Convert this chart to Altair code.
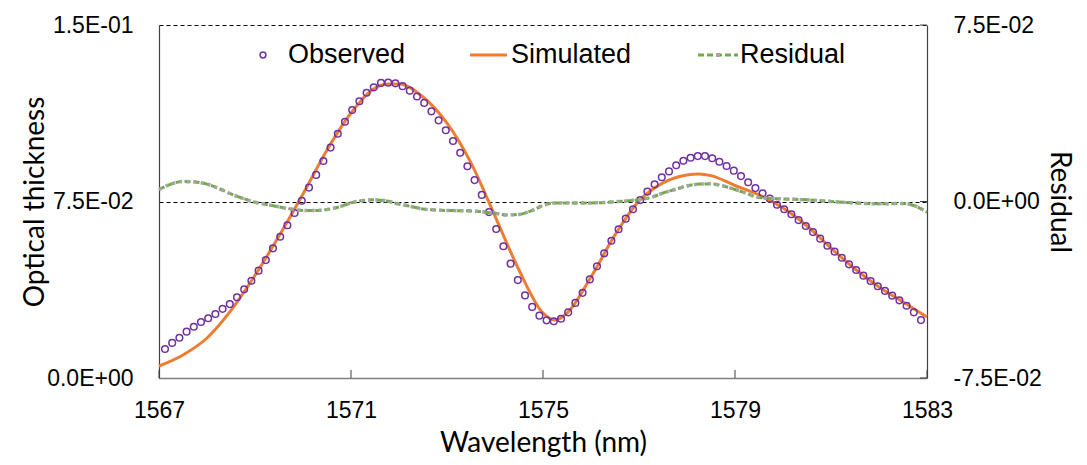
import altair as alt
import pandas as pd

# ---------------- data ----------------
obs_start = 1567.125
obs_step = 0.15
observed = [
    0.0123, 0.0149, 0.0171, 0.0197, 0.0218, 0.0238, 0.0254, 0.0272, 0.0294, 0.0314,
    0.0343, 0.0377, 0.0413, 0.0456, 0.0501, 0.0551, 0.0600, 0.0649, 0.0701, 0.0753,
    0.0809, 0.0863, 0.0922, 0.0979, 0.1038, 0.1089, 0.1139, 0.1176, 0.1212, 0.1235,
    0.1254, 0.1255, 0.1252, 0.1240, 0.1221, 0.1196, 0.1169, 0.1133, 0.1095, 0.1053,
    0.1007, 0.0957, 0.0900, 0.0841, 0.0778, 0.0705, 0.0633, 0.0560, 0.0486, 0.0416,
    0.0351, 0.0302, 0.0265, 0.0245, 0.0241, 0.0252, 0.0279, 0.0319, 0.0362, 0.0419,
    0.0475, 0.0530, 0.0583, 0.0632, 0.0677, 0.0717, 0.0756, 0.0792, 0.0823, 0.0853,
    0.0878, 0.0904, 0.0923, 0.0936, 0.0943, 0.0943, 0.0934, 0.0919, 0.0901, 0.0881,
    0.0858, 0.0832, 0.0807, 0.0785, 0.0762, 0.0736, 0.0717, 0.0696, 0.0671, 0.0646,
    0.0620, 0.0592, 0.0562, 0.0537, 0.0511, 0.0483, 0.0459, 0.0435, 0.0412, 0.0390,
    0.0370, 0.0350, 0.0330, 0.0307, 0.0279, 0.0246,
]
obs_wl = [round(obs_start + obs_step * i, 3) for i in range(len(observed))]

sim_wl = [1567.0, 1567.5, 1568.0, 1568.5, 1569.0, 1569.5, 1570.0, 1570.5, 1571.0,
          1571.5, 1571.75, 1572.0, 1572.5, 1573.0, 1573.5, 1574.0, 1574.5, 1575.0,
          1575.25, 1575.5, 1576.0, 1576.5, 1577.0, 1577.5, 1578.0, 1578.25, 1578.5,
          1579.0, 1579.5, 1580.0, 1580.5, 1581.0, 1581.5, 1582.0, 1582.5, 1583.0]
simulated = [0.0051, 0.0098, 0.0170, 0.0287, 0.0436, 0.0603, 0.0782, 0.0969, 0.1126,
             0.1232, 0.1249, 0.1249, 0.1194, 0.1083, 0.0914, 0.0688, 0.0459, 0.0276,
             0.0246, 0.0276, 0.0429, 0.0608, 0.0752, 0.0829, 0.0863, 0.0867, 0.0860,
             0.0818, 0.0778, 0.0722, 0.0646, 0.0552, 0.0463, 0.0387, 0.0323, 0.0259]

res_wl = [1567.0, 1567.25, 1567.5, 1567.75, 1568.0, 1568.25, 1568.5, 1568.75, 1569.0,
          1569.25, 1569.5, 1569.75, 1570.0, 1570.25, 1570.5, 1570.75, 1571.0, 1571.25,
          1571.5, 1571.75, 1572.0, 1572.25, 1572.5, 1572.75, 1573.0, 1573.5, 1574.0,
          1574.25, 1574.5, 1574.75, 1575.0, 1575.25, 1575.5, 1576.0, 1576.5, 1577.0,
          1577.25, 1577.5, 1577.75, 1578.0, 1578.25, 1578.5, 1578.75, 1579.0, 1579.25,
          1579.5, 1580.0, 1580.5, 1581.0, 1581.5, 1582.0, 1582.5, 1582.75, 1583.0]
residual = [0.0051, 0.0074, 0.0085, 0.0083, 0.0074, 0.0055, 0.0032, 0.0013, -0.0003,
            -0.0013, -0.0023, -0.0032, -0.0038, -0.0038, -0.0034, -0.0023, -0.0006, 0.0004,
            0.0007, 0.0002, -0.0011, -0.0021, -0.0032, -0.0036, -0.0038, -0.0040, -0.0050,
            -0.0057, -0.0055, -0.0040, -0.0017, -0.0006, -0.0006, -0.0006, -0.0001, 0.0008,
            0.0017, 0.0036, 0.0051, 0.0066, 0.0074, 0.0075, 0.0066, 0.0051, 0.0034,
            0.0017, 0.0011, 0.0007, 0.0000, -0.0006, -0.0010, -0.0008, -0.0019, -0.0045]

x_ticks = [1567, 1571, 1575, 1579, 1583]
left_ticks = [0, 0.075, 0.15]
left_labels = ["0.0E+00", "7.5E-02", "1.5E-01"]
right_ticks = [-0.075, 0, 0.075]
right_labels = ["-7.5E-02", "0.0E+00", "7.5E-02"]
legend_labels = ["Observed", "Simulated", "Residual"]

# ---------------- styling ----------------
PURPLE = "#7030A0"
ORANGE = "#ED7D31"
GREEN = "#70AD47"
GREY = "#A5A5A5"
TICK_FONT = "Liberation Sans"
TITLE_FONT = "Lato"
W, H = 768, 353


def label_expr(vals, labels):
    expr = "''"
    for v, l in zip(reversed(vals), reversed(labels)):
        expr = f"abs(datum.value - ({v})) < 1e-9 ? '{l}' : " + expr
    return expr


obs_df = pd.DataFrame({"wl": obs_wl, "val": observed})
sim_df = pd.DataFrame({"wl": sim_wl, "val": simulated})
res_df = pd.DataFrame({"wl": res_wl, "val": residual})
xt_df = pd.DataFrame({"wl": x_ticks})
rt_df = pd.DataFrame({"val": right_ticks})

x_scale = alt.Scale(domain=[1567, 1583], nice=False, zero=False)
x_axis = alt.Axis(values=x_ticks, format="d", title="Wavelength (nm)", grid=False,
                  ticks=False, tickSize=0, labelFontSize=23, labelFont=TICK_FONT,
                  labelColor="black", labelPadding=21, labelFlush=False,
                  domainColor="#7f7f7f", domainWidth=1.5, titleFont=TITLE_FONT,
                  titleFontSize=28, titleFontWeight="normal", titleColor="black",
                  titleX=W / 2, titleY=73, titleBaseline="alphabetic",
                  titleAlign="center")

yl_scale = alt.Scale(domain=[0, 0.15], nice=False)
yl_axis = alt.Axis(values=left_ticks, labelExpr=label_expr(left_ticks, left_labels),
                   title="Optical thickness", grid=True, gridDash=[4, 3],
                   gridColor="black", gridWidth=1, ticks=False, tickSize=0,
                   labelFontSize=23, labelFont=TICK_FONT, labelColor="black",
                   labelPadding=26, labelFlush=False, domainColor="#404040",
                   domainWidth=1.2, titleFont=TITLE_FONT, titleFontSize=28,
                   titleFontWeight="normal", titleColor="black", titleX=-124,
                   titleY=H / 2, titleAngle=-90, titleBaseline="middle",
                   titleAlign="center")

yr_scale = alt.Scale(domain=[-0.075, 0.075], nice=False, zero=False)
yr_axis = alt.Axis(values=right_ticks, labelExpr=label_expr(right_ticks, right_labels),
                   title="Residual", orient="right", grid=False, ticks=False,
                   tickSize=0, labelFontSize=23, labelFont=TICK_FONT,
                   labelColor="black", labelPadding=26, labelFlush=False,
                   domainColor="#404040", domainWidth=1.2, titleFont=TITLE_FONT,
                   titleFontSize=28, titleFontWeight="normal", titleColor="black",
                   titleX=131, titleY=H / 2, titleAngle=90, titleBaseline="middle",
                   titleAlign="center")

X = alt.X("wl:Q", scale=x_scale, axis=x_axis)

sim_line = alt.Chart(sim_df).mark_line(color=ORANGE, strokeWidth=3,
                                       interpolate="monotone").encode(
    x=X, y=alt.Y("val:Q", scale=yl_scale, axis=yl_axis))
obs_pts = alt.Chart(obs_df).mark_point(shape="circle", filled=False, color=PURPLE,
                                       size=44, strokeWidth=1.5, opacity=1).encode(
    x=alt.X("wl:Q", scale=x_scale), y=alt.Y("val:Q", scale=yl_scale))
x_tick_marks = alt.Chart(xt_df).mark_rule(color="#404040", strokeWidth=1).encode(
    x=alt.X("wl:Q", scale=x_scale), y=alt.value(H), y2=alt.value(H - 8))

left_layer = alt.layer(sim_line, obs_pts, x_tick_marks)

res_green = alt.Chart(res_df).mark_line(color=GREEN, strokeWidth=3, strokeDash=[6, 3],
                                        interpolate="monotone").encode(
    x=alt.X("wl:Q", scale=x_scale), y=alt.Y("val:Q", scale=yr_scale, axis=yr_axis))
res_grey = alt.Chart(res_df).mark_line(color=GREY, strokeWidth=3.5, strokeDash=[3, 4.2],
                                       interpolate="monotone").encode(
    x=alt.X("wl:Q", scale=x_scale), y=alt.Y("val:Q", scale=yr_scale))
r_tick_marks = alt.Chart(rt_df).mark_rule(color="#404040", strokeWidth=1).encode(
    y=alt.Y("val:Q", scale=yr_scale), x=alt.value(W - 7), x2=alt.value(W))

right_layer = alt.layer(res_green, res_grey, r_tick_marks)

# ---------------- legend (manual, at top of plot) ----------------
LY = 30
one = pd.DataFrame({"k": [0]})
leg_circle = alt.Chart(one).mark_point(shape="circle", filled=False, color=PURPLE,
                                       size=34, strokeWidth=1.5, opacity=1).encode(
    x=alt.value(104), y=alt.value(LY))
leg_orange = alt.Chart(one).mark_rule(color=ORANGE, strokeWidth=3).encode(
    x=alt.value(311), x2=alt.value(348), y=alt.value(LY))
leg_green = alt.Chart(one).mark_rule(color=GREEN, strokeWidth=3,
                                     strokeDash=[6, 3]).encode(
    x=alt.value(539), x2=alt.value(579), y=alt.value(LY))
leg_grey = alt.Chart(one).mark_point(shape="square", filled=True, color=GREY,
                                     size=16, opacity=1).encode(
    x=alt.value(559), y=alt.value(LY))
leg_text_x = [129, 352, 581]
leg_texts = [
    alt.Chart(pd.DataFrame({"t": [lab]})).mark_text(
        align="left", baseline="middle", font=TICK_FONT, fontSize=27,
        color="black").encode(x=alt.value(xx), y=alt.value(LY), text="t:N")
    for lab, xx in zip(legend_labels, leg_text_x)
]

legend_layer = alt.layer(leg_circle, leg_orange, leg_green, leg_grey, *leg_texts)

chart = alt.layer(left_layer, right_layer, legend_layer).resolve_scale(
    y="independent"
).properties(
    width=W, height=H,
    autosize=alt.AutoSizeParams(type="none"),
    padding={"left": 151, "top": 17, "right": 152, "bottom": 79},
).configure_view(stroke=None)

chart.save("out.html", embed_options={"renderer": "svg", "actions": False})
